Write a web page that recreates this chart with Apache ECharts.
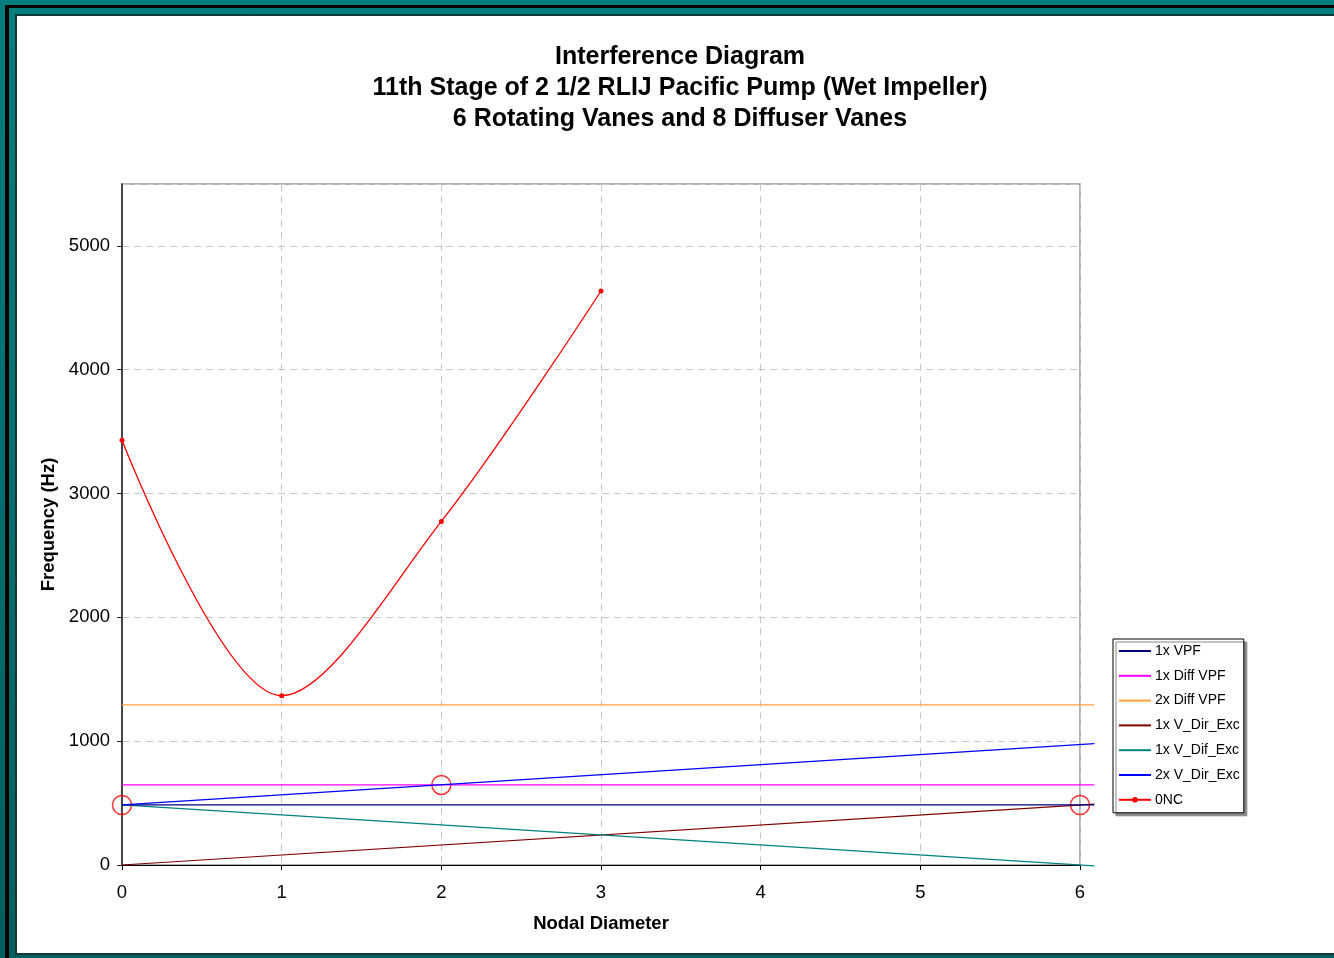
<!DOCTYPE html>
<html>
<head>
<meta charset="utf-8">
<script src="https://cdn.jsdelivr.net/npm/echarts@6/dist/echarts.min.js"></script>
<style>
  html, body { margin: 0; padding: 0; width: 1334px; height: 958px; overflow: hidden; }
  body { background: linear-gradient(180deg, #007d7d 0%, #006f6f 50%, #005f5f 100%); position: relative; }
  #black { position: absolute; left: 5px; top: 5px; right: -10px; bottom: -10px; border-left: 4px solid #000; border-top: 3px solid #000; box-sizing: border-box; }
  #white { position: absolute; left: 15px; top: 14px; right: -2px; bottom: 3px; background: #fff; border: 2px solid #163838; border-right: none; box-sizing: border-box; }
  #chart { position: absolute; left: 0; top: 0; width: 1334px; height: 958px; }
</style>
</head>
<body>
<div id="black"></div>
<div id="white"></div>
<div id="chart"></div>
<script>
// ---- data ----
const titleLines = [
  'Interference Diagram',
  '11th Stage of 2 1/2 RLIJ Pacific Pump (Wet Impeller)',
  '6 Rotating Vanes and 8 Diffuser Vanes'
];
const xName = 'Nodal Diameter';
const yName = 'Frequency (Hz)';
const seriesNames = ['1x VPF', '1x Diff VPF', '2x Diff VPF', '1x V_Dir_Exc', '1x V_Dif_Exc', '2x V_Dir_Exc', '0NC'];
const xTicks = { min: 0, max: 6, step: 1 };
const yTicks = { min: 0, max: 5500, step: 1000 };
const lineXEnd = 6.09;   // excitation lines run slightly past ND 6
const vpf1x = [[0, 485], [lineXEnd, 485]];
const diffVpf1x = [[0, 647], [lineXEnd, 647]];
const diffVpf2x = [[0, 1294], [lineXEnd, 1294]];
const vDirExc1x = [[0, 0], [lineXEnd, 492]];
const vDifExc1x = [[0, 485], [lineXEnd, -7]];
const vDirExc2x = [[0, 485], [lineXEnd, 980]];
const onc = [[0, 3430], [1, 1367], [2, 2775], [3, 4636]];
const crossings = [[0, 485], [2, 647], [6, 485]];

const colors = ['#000080', '#ff00ff', '#ffa040', '#800000', '#008080', '#0000ff', '#ff0000'];
const font = '"Liberation Sans", Arial, Helvetica, sans-serif';

const chart = echarts.init(document.getElementById('chart'), null, { renderer: 'canvas' });

const gridLeft = 122, gridTop = 184, gridBottom = 93, gridRight = 254;
const plotW = 1334 - gridLeft - gridRight;
const pxPerUnit = plotW / (xTicks.max - xTicks.min);
const extRight = 1334 - gridLeft - pxPerUnit * (lineXEnd - xTicks.min);

function lineSeries(name, data, color) {
  return {
    name: name, type: 'line', data: data, symbol: 'none', clip: false,
    xAxisIndex: 1, yAxisIndex: 1,
    lineStyle: { color: color, width: 1.2 }, itemStyle: { color: color }
  };
}

const plainLineLegend = (name) => ({
  name: name,
  itemStyle: { color: 'rgba(0,0,0,0)', borderColor: 'rgba(0,0,0,0)', borderWidth: 0 }
});

const option = {
  animation: false,
  textStyle: { fontFamily: font, color: '#000' },
  graphic: [{
    type: 'text', x: 680, y: 42,
    style: {
      text: titleLines.join('\n'), textAlign: 'center', textVerticalAlign: 'top',
      font: 'bold 25px ' + font, lineHeight: 31, fill: '#000'
    }
  }],
  grid: [
    { left: gridLeft, right: gridRight, top: gridTop, bottom: gridBottom,
      show: true, borderColor: '#999', borderWidth: 1.5, backgroundColor: 'transparent' },
    { left: gridLeft, right: extRight, top: gridTop, bottom: gridBottom, show: false }
  ],
  legend: {
    orient: 'vertical', left: 1113, top: 639,
    data: seriesNames.slice(0, 6).map(plainLineLegend).concat([{ name: seriesNames[6] }]),
    itemWidth: 32, itemHeight: 7, itemGap: 10.8,
    padding: [5, 4, 6, 5],
    backgroundColor: '#fff', borderColor: '#000', borderWidth: 1,
    shadowColor: '#888', shadowOffsetX: 3, shadowOffsetY: 3, shadowBlur: 0,
    textStyle: { fontFamily: font, fontSize: 14, color: '#000', padding: [0, 0, 0, -1] },
    selectedMode: false
  },
  xAxis: [{
    type: 'value', min: xTicks.min, max: xTicks.max, interval: xTicks.step, gridIndex: 0,
    name: xName, nameLocation: 'middle', nameGap: 49,
    nameTextStyle: { fontFamily: font, fontSize: 18.5, fontWeight: 'bold', color: '#000' },
    axisLine: { show: true, onZero: false, lineStyle: { color: '#000', width: 1 } },
    axisTick: { show: true, inside: false, length: 5, lineStyle: { color: '#000' } },
    axisLabel: { fontFamily: font, fontSize: 18.5, color: '#000', margin: 18 },
    splitLine: { show: true, lineStyle: { color: '#c8c8c8', type: [7, 5], width: 1 } }
  }, {
    type: 'value', min: xTicks.min, max: lineXEnd, gridIndex: 1, show: false
  }],
  yAxis: [{
    type: 'value', min: yTicks.min, max: yTicks.max, interval: yTicks.step, gridIndex: 0,
    name: yName, nameLocation: 'middle', nameGap: 59, nameRotate: 90,
    nameTextStyle: { fontFamily: font, fontSize: 18.5, fontWeight: 'bold', color: '#000' },
    axisLine: { show: true, onZero: false, lineStyle: { color: '#222', width: 1.5 } },
    axisTick: { show: true, inside: false, length: 5, lineStyle: { color: '#222' } },
    axisLabel: { fontFamily: font, fontSize: 18.5, color: '#000', margin: 12, showMaxLabel: false,
      padding: [4, 0, 0, 0], formatter: (v) => String(v) },
    splitLine: { show: true, lineStyle: { color: '#c8c8c8', type: [7, 5], width: 1 } }
  }, {
    type: 'value', min: yTicks.min, max: yTicks.max, gridIndex: 1, show: false
  }],
  series: [
    lineSeries(seriesNames[3], vDirExc1x, colors[3]),
    lineSeries(seriesNames[4], vDifExc1x, colors[4]),
    lineSeries(seriesNames[0], vpf1x, colors[0]),
    lineSeries(seriesNames[1], diffVpf1x, colors[1]),
    lineSeries(seriesNames[2], diffVpf2x, colors[2]),
    lineSeries(seriesNames[5], vDirExc2x, colors[5]),
    {
      name: seriesNames[6], type: 'line', data: onc, smooth: 0.33,
      symbol: 'circle', symbolSize: 5, showSymbol: true, clip: false,
      lineStyle: { color: colors[6], width: 1.3 }, itemStyle: { color: colors[6] }
    },
    {
      name: 'crossings', type: 'scatter', data: crossings, symbol: 'circle', symbolSize: 19,
      clip: false, silent: true,
      itemStyle: { color: 'transparent', borderColor: '#ff0000', borderWidth: 1.5 }
    }
  ]
};
chart.setOption(option);
</script>
</body>
</html>
